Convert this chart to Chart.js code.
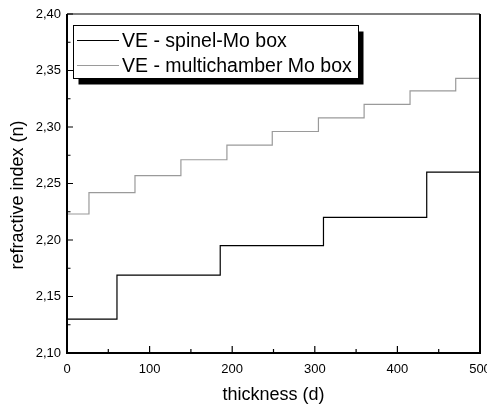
<!DOCTYPE html>
<html>
<head>
<meta charset="utf-8">
<script src="https://cdn.jsdelivr.net/npm/chart.js@4.4.1/dist/chart.umd.min.js"></script>
<style>
html,body{margin:0;padding:0;background:#fff;}
#wrap{position:relative;width:487px;height:407px;}
</style>
</head>
<body>
<div id="wrap"><canvas id="c" width="487" height="407"></canvas></div>
<script>
// refractive index vs thickness, two step curves
const spinelD=[0,60.5,185.5,310.5,435.5,500];
const spinelN=[2.130,2.169,2.195,2.220,2.260,2.260];
const multiD=[0,26.6,82.3,137.9,193.6,248.5,304.4,359.7,415.3,470.6,500];
const multiN=[2.223,2.242,2.257,2.271,2.284,2.296,2.308,2.320,2.332,2.343,2.343];
const seriesNames=['VE - spinel-Mo box','VE - multichamber Mo box'];
const seriesColors=['#000000','#9a9a9a'];
const xTicks=[0,100,200,300,400,500];
const yTicks=[2.10,2.15,2.20,2.25,2.30,2.35,2.40];
const xTitle='thickness (d)';
const yTitle='refractive index (n)';

const FONT='"Liberation Sans", Arial, sans-serif';

function pts(xs,ys){return xs.map((x,i)=>({x,y:ys[i]}));}

const decor={
  id:'decor',
  afterDraw(chart){
    const {ctx,chartArea:a,scales:{x,y}}=chart;
    ctx.save();
    ctx.strokeStyle='#000';
    // frame
    ctx.lineWidth=1.2;
    ctx.beginPath();ctx.moveTo(a.left,a.top);ctx.lineTo(a.right,a.top);ctx.stroke();
    ctx.lineWidth=2;
    ctx.beginPath();
    ctx.moveTo(a.left,a.top);ctx.lineTo(a.left,a.bottom);ctx.lineTo(a.right,a.bottom);ctx.lineTo(a.right,a.top);
    ctx.stroke();
    // inward ticks
    ctx.lineWidth=1.2;
    ctx.beginPath();
    for(let i=0;i<xTicks.length;i++){
      const px=x.getPixelForValue(xTicks[i]);
      ctx.moveTo(px,a.bottom);ctx.lineTo(px,a.bottom-7);
      if(i<xTicks.length-1){
        const mx=x.getPixelForValue((xTicks[i]+xTicks[i+1])/2);
        ctx.moveTo(mx,a.bottom);ctx.lineTo(mx,a.bottom-4);
      }
    }
    for(let i=0;i<yTicks.length;i++){
      const py=y.getPixelForValue(yTicks[i]);
      ctx.moveTo(a.left,py);ctx.lineTo(a.left+6,py);
      if(i<yTicks.length-1){
        const my=y.getPixelForValue((yTicks[i]+yTicks[i+1])/2);
        ctx.moveTo(a.left,my);ctx.lineTo(a.left+3.5,my);
      }
    }
    ctx.stroke();
    // legend with drop shadow
    const bx=73.5,by=25.5,bw=285,bh=53;
    ctx.fillStyle='#000';
    ctx.fillRect(bx+5,by+6,bw,bh);
    ctx.fillStyle='#fff';
    ctx.fillRect(bx,by,bw,bh);
    ctx.lineWidth=1;
    ctx.strokeRect(bx,by,bw,bh);
    ctx.font='19.5px '+FONT;
    ctx.textBaseline='middle';
    ctx.textAlign='left';
    const rows=[40.5,65.5];
    seriesNames.forEach((name,i)=>{
      ctx.strokeStyle=seriesColors[i];
      ctx.lineWidth=1.2;
      ctx.beginPath();ctx.moveTo(77,rows[i]);ctx.lineTo(119,rows[i]);ctx.stroke();
      ctx.fillStyle='#000';
      ctx.fillText(name,122,rows[i]+1);
    });
    // axis titles
    ctx.font='18px '+FONT;
    ctx.fillStyle='#000';
    ctx.textAlign='center';
    ctx.fillText(xTitle,(a.left+a.right)/2,395);
    ctx.translate(18,195);
    ctx.rotate(-Math.PI/2);
    ctx.fillText(yTitle,0,0);
    ctx.restore();
  }
};

new Chart(document.getElementById('c'),{
  type:'line',
  data:{
    datasets:[
      {label:seriesNames[0],data:pts(spinelD,spinelN),borderColor:seriesColors[0],borderWidth:1.2,pointRadius:0,stepped:'before',fill:false},
      {label:seriesNames[1],data:pts(multiD,multiN),borderColor:seriesColors[1],borderWidth:1.2,pointRadius:0,stepped:'before',fill:false}
    ]
  },
  options:{
    responsive:false,
    animation:false,
    layout:{padding:{left:0,top:14,right:7,bottom:0}},
    plugins:{legend:{display:false},tooltip:{enabled:false}},
    scales:{
      x:{
        type:'linear',min:0,max:500,
        grid:{display:false,drawTicks:false},
        border:{display:false},
        afterBuildTicks:s=>{s.ticks=xTicks.map(v=>({value:v}));},
        afterFit:s=>{s.height=54;s.paddingLeft=0;s.paddingRight=0;},
        ticks:{padding:9,color:'#000',font:{family:FONT,size:13},maxRotation:0,autoSkip:false,callback:v=>String(v)}
      },
      y:{
        type:'linear',min:2.10,max:2.40,
        grid:{display:false,drawTicks:false},
        border:{display:false},
        afterBuildTicks:s=>{s.ticks=yTicks.map(v=>({value:v}));},
        afterFit:s=>{s.width=67;s.paddingTop=0;s.paddingBottom=0;},
        ticks:{padding:6,color:'#000',font:{family:FONT,size:13},autoSkip:false,callback:v=>v.toFixed(2).replace('.',',')}
      }
    }
  },
  plugins:[decor]
});
</script>
</body>
</html>
